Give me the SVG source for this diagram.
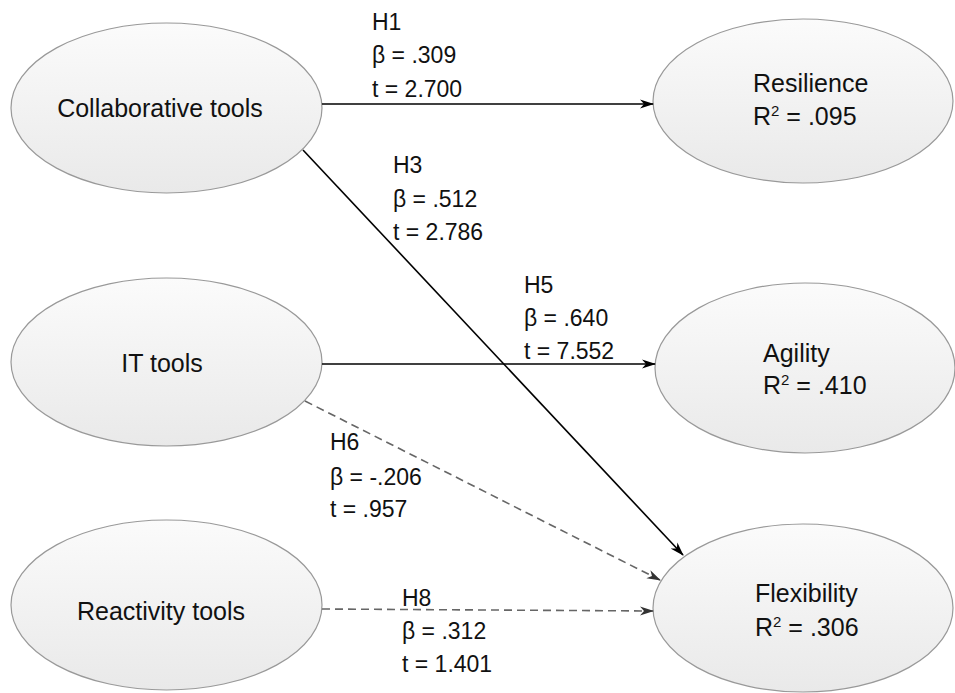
<svg xmlns="http://www.w3.org/2000/svg" width="955" height="693" viewBox="0 0 955 693">
  <defs>
    <linearGradient id="nodeFill" x1="0" y1="0" x2="0" y2="1">
      <stop offset="0" stop-color="#fbfbfb"/>
      <stop offset="1" stop-color="#e9e9e9"/>
    </linearGradient>
    <marker id="arrowSolid" viewBox="0 0 14 10" refX="13" refY="5" markerWidth="14" markerHeight="10" markerUnits="userSpaceOnUse" orient="auto">
      <path d="M0,0.5 L14,5 L0,9.5 L4,5 Z" fill="#000"/>
    </marker>
    <marker id="arrowDash" viewBox="0 0 14 10" refX="13" refY="5" markerWidth="14" markerHeight="10" markerUnits="userSpaceOnUse" orient="auto">
      <path d="M0,0.5 L14,5 L0,9.5 L4,5 Z" fill="#333"/>
    </marker>
  </defs>
  <style>
    .node ellipse { fill: url(#nodeFill); stroke: #999; stroke-width: 1.2; }
    .node text { font-family: "Liberation Sans", Arial, sans-serif; font-size: 25px; fill: #111; }
    .lbl { font-family: "Liberation Sans", Arial, sans-serif; font-size: 23px; fill: #111; }
    .sup { font-size: 15px; }
    .solid { stroke: #000; stroke-width: 1.6; fill: none; marker-end: url(#arrowSolid); }
    .dash { stroke: #666; stroke-width: 1.6; fill: none; stroke-dasharray: 8 5; marker-end: url(#arrowDash); }
  </style>
  <rect width="955" height="693" fill="#fff"/>

  <g id="collaborative" class="node">
    <ellipse cx="166.5" cy="108" rx="155.5" ry="85"/>
    <text x="160" y="117" text-anchor="middle">Collaborative tools</text>
  </g>
  <g id="it" class="node">
    <ellipse cx="166.5" cy="362" rx="155.5" ry="84"/>
    <text x="162" y="372" text-anchor="middle">IT tools</text>
  </g>
  <g id="reactivity" class="node">
    <ellipse cx="166.5" cy="605" rx="155.5" ry="85"/>
    <text x="161" y="620" text-anchor="middle">Reactivity tools</text>
  </g>
  <g id="resilience" class="node">
    <ellipse cx="803" cy="101" rx="150" ry="82"/>
    <text x="753" y="92">Resilience</text>
    <text x="753" y="125">R<tspan class="sup" dy="-9">2</tspan><tspan dy="9"> = .095</tspan></text>
  </g>
  <g id="agility" class="node">
    <ellipse cx="805" cy="368" rx="150" ry="85"/>
    <text x="763" y="362">Agility</text>
    <text x="763" y="394">R<tspan class="sup" dy="-9">2</tspan><tspan dy="9"> = .410</tspan></text>
  </g>
  <g id="flexibility" class="node">
    <ellipse cx="803" cy="608" rx="150" ry="84"/>
    <text x="755" y="602">Flexibility</text>
    <text x="755" y="636">R<tspan class="sup" dy="-9">2</tspan><tspan dy="9"> = .306</tspan></text>
  </g>

  <g id="connectors">
    <line class="solid" x1="322" y1="104" x2="653" y2="104"/>
    <line class="solid" x1="303" y1="150" x2="683" y2="555"/>
    <line class="solid" x1="322" y1="364" x2="655" y2="364"/>
    <line class="dash" x1="305" y1="401" x2="660" y2="580"/>
    <line class="dash" x1="322" y1="609" x2="653" y2="611"/>
  </g>

  <g id="labels" class="lbl">
    <text x="372" y="30">H1</text>
    <text x="372" y="63">β = .309</text>
    <text x="372" y="97">t = 2.700</text>

    <text x="393" y="173">H3</text>
    <text x="393" y="207">β = .512</text>
    <text x="393" y="240">t = 2.786</text>

    <text x="524" y="293">H5</text>
    <text x="524" y="326">β = .640</text>
    <text x="524" y="359">t = 7.552</text>

    <text x="330" y="450">H6</text>
    <text x="330" y="485">β = -.206</text>
    <text x="330" y="517">t = .957</text>

    <text x="402" y="606">H8</text>
    <text x="402" y="639">β = .312</text>
    <text x="402" y="672">t = 1.401</text>
  </g>
</svg>
